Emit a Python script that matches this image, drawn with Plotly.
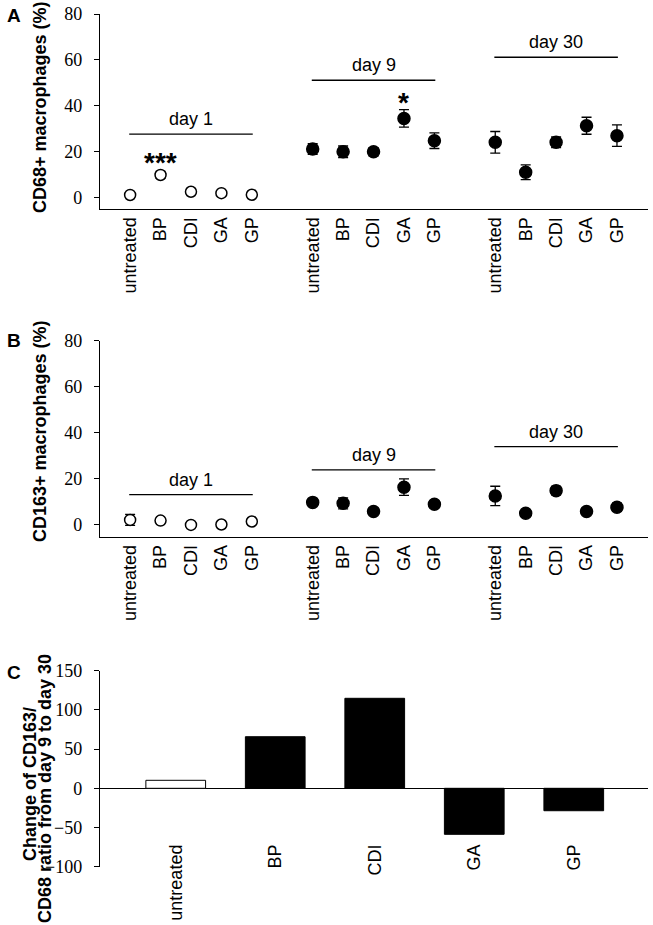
import plotly.graph_objects as go

W, H = 653, 925

# ---------------- data ----------------
treatments = ["untreated", "BP", "CDI", "GA", "GP"]
days = ["day 1", "day 9", "day 30"]
group_pos = [[0, 1, 2, 3, 4], [6, 7, 8, 9, 10], [12, 13, 14, 15, 16]]

cd68_day1 = [1.3, 10.0, 2.7, 2.1, 1.4]
cd68_day1_err = [0.8, 1.5, 0.8, 0.8, 0.7]
cd68_day9 = [21.3, 20.1, 20.1, 34.6, 24.9]
cd68_day9_err = [2.3, 2.5, 1.8, 3.8, 3.4]
cd68_day30 = [24.2, 11.2, 24.2, 31.4, 27.1]
cd68_day30_err = [4.7, 3.2, 2.3, 3.7, 4.7]
cd68_bracket_y = [27.8, 51.2, 61.2]

cd163_day1 = [2.2, 1.9, 0.0, 0.2, 1.5]
cd163_day1_err = [2.4, 0.7, 0.3, 0.3, 1.0]
cd163_day9 = [9.8, 9.4, 5.8, 16.4, 9.0]
cd163_day9_err = [1.3, 2.4, 1.0, 3.6, 1.5]
cd163_day30 = [12.6, 5.1, 14.9, 5.8, 7.7]
cd163_day30_err = [4.2, 1.0, 1.8, 0.8, 1.8]
cd163_bracket_y = [13.2, 23.9, 34.0]

ratio_change = [10.2, 65.8, 114.8, -58.7, -28.6]

# significance marks: (group index, treatment index, label, y)
sig_marks = [(0, 1, "***", 17.8), (1, 3, "*", 43.5)]

# ---------------- helpers ----------------
def fy(px):
    return 1 - px / H

def fx(px):
    return px / W

SANS = "Liberation Sans, Arial, sans-serif"
SERIF = "Liberation Serif"

fig = go.Figure()

def add_points(vals, errs, xs, xa, ya, open_marker):
    fig.add_trace(go.Scatter(
        x=xs, y=vals, mode="markers", xaxis=xa, yaxis=ya, showlegend=False,
        marker=dict(symbol="circle", size=11 if open_marker else 12,
                    color="white" if open_marker else "black",
                    line=dict(color="black", width=1.5)),
        error_y=dict(type="data", array=errs, visible=True, color="black",
                     thickness=1.3, width=5),
    ))

for (vals, errs), xs, op in zip(
        [(cd68_day1, cd68_day1_err), (cd68_day9, cd68_day9_err), (cd68_day30, cd68_day30_err)],
        group_pos, [True, False, False]):
    add_points(vals, errs, xs, "x", "y", op)

for (vals, errs), xs, op in zip(
        [(cd163_day1, cd163_day1_err), (cd163_day9, cd163_day9_err), (cd163_day30, cd163_day30_err)],
        group_pos, [True, False, False]):
    add_points(vals, errs, xs, "x2", "y2", op)

fig.add_trace(go.Bar(
    x=list(range(len(treatments))), y=ratio_change, xaxis="x3", yaxis="y3",
    width=0.6, showlegend=False,
    marker=dict(color=["white"] + ["black"] * (len(treatments) - 1),
                line=dict(color="black", width=1)),
))

# brackets + day labels
shapes = []
annotations = []
for brackets, xa, ya in [(cd68_bracket_y, "x", "y"), (cd163_bracket_y, "x2", "y2")]:
    for g, (d, yv) in enumerate(zip(days, brackets)):
        x0 = group_pos[g][0] - 0.03
        x1 = group_pos[g][-1] + 0.03
        shapes.append(dict(type="line", xref=xa, yref=ya, x0=x0, x1=x1, y0=yv, y1=yv,
                           line=dict(color="black", width=1.3)))
        annotations.append(dict(xref=xa, yref=ya, x=(x0 + x1) / 2, y=yv, text=d,
                                showarrow=False, yanchor="bottom", yshift=3,
                                font=dict(family=SANS, size=18, color="black")))

for g, t, lab, yv in sig_marks:
    annotations.append(dict(xref="x", yref="y", x=group_pos[g][t], y=yv, text="<b>" + lab + "</b>",
                            showarrow=False, yanchor="middle", yshift=-5,
                            font=dict(family=SANS, size=28, color="black")))

# panel letters
for lab, ypx in [("A", 15.5), ("B", 340), ("C", 672)]:
    annotations.append(dict(xref="paper", yref="paper", x=fx(14), y=fy(ypx), text="<b>" + lab + "</b>",
                            showarrow=False, xanchor="center", yanchor="middle",
                            font=dict(family=SANS, size=19, color="black")))

# axis titles
for txt, xpx, ypx in [("CD68+ macrophages (%)", 40, 107),
                      ("CD163+ macrophages (%)", 40, 431),
                      ("Change of CD163/", 30, 784),
                      ("CD68 ratio from day 9 to day 30", 45, 789)]:
    annotations.append(dict(xref="paper", yref="paper", x=fx(xpx), y=fy(ypx), text="<b>" + txt + "</b>",
                            showarrow=False, textangle=-90, xanchor="center", yanchor="middle",
                            font=dict(family=SANS, size=18, color="black")))

all_pos = [p for grp in group_pos for p in grp]
tick_text = treatments * 3

xcommon = dict(showgrid=False, zeroline=False, showline=True, linecolor="black", linewidth=1.3,
               ticks="", tickangle=-90, tickfont=dict(family=SANS, size=18, color="black"),
               tickvals=all_pos, ticktext=tick_text, range=[-0.99, 17.02], automargin=False)
ycommon = dict(showgrid=False, showline=True, linecolor="black", linewidth=1.3,
               ticks="outside", ticklen=5, tickwidth=1.3, tickcolor="black",
               ticklabelstandoff=8, automargin=False,
               tickfont=dict(family=SERIF, size=18, color="black"))

xd = [fx(100), fx(648)]

fig.update_layout(
    width=W, height=H, margin=dict(l=0, r=0, t=0, b=0, autoexpand=False),
    template="none",
    paper_bgcolor="white", plot_bgcolor="white",
    xaxis=dict(**xcommon, domain=xd, anchor="y"),
    yaxis=dict(**ycommon, zeroline=False, domain=[fy(209), fy(14)], range=[-4.8, 80],
               tickvals=[0, 20, 40, 60, 80], anchor="x"),
    xaxis2=dict(**xcommon, domain=xd, anchor="y2"),
    yaxis2=dict(**ycommon, zeroline=False, domain=[fy(536.7), fy(340.7)], range=[-5.1, 80],
                tickvals=[0, 20, 40, 60, 80], anchor="x2"),
    xaxis3=dict(showgrid=False, zeroline=False, showline=False, ticks="", tickangle=-90,
                tickfont=dict(family=SANS, size=18, color="black"), automargin=False,
                tickvals=list(range(len(treatments))), ticktext=treatments,
                range=[-0.761, 4.746], domain=xd, anchor="free", position=fy(840)),
    yaxis3=dict(**ycommon, zeroline=True, zerolinecolor="black", zerolinewidth=1.3,
                domain=[fy(866.7), fy(670.7)], range=[-100, 150],
                tickvals=[-100, -50, 0, 50, 100, 150], anchor="x3"),
    shapes=shapes, annotations=annotations,
)

fig.write_html("out.html", config={"displayModeBar": False},
               post_script="document.body.style.margin='0';")
